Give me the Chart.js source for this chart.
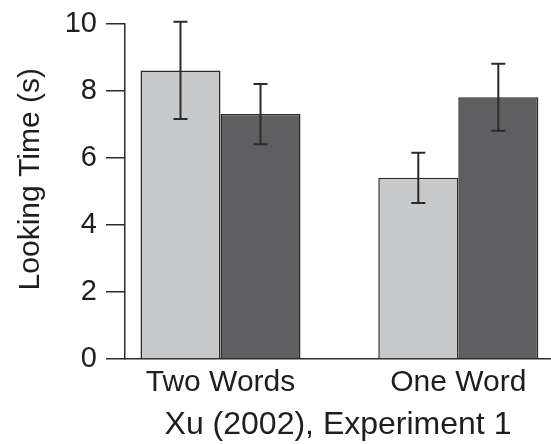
<!DOCTYPE html>
<html>
<head>
<meta charset="utf-8">
<script src="https://cdn.jsdelivr.net/npm/chart.js@4/dist/chart.umd.min.js"></script>
<style>
  html, body { margin: 0; padding: 0; background: #ffffff; }
  #wrap { width: 551px; height: 444px; position: relative; }
</style>
</head>
<body>
<div id="wrap"><canvas id="c" width="551" height="444"></canvas></div>
<script>
// Conditions on the x axis
const categories = ['Two Words', 'One Word'];
// Mean looking time (s) per condition, two trial types
const lightMeans = [8.6, 5.4];
const darkMeans = [7.3, 7.8];
// Error bar half-lengths (s)
const lightErrors = [1.45, 0.75];
const darkErrors = [0.9, 1.0];
// Y axis tick values
const yTicks = [0, 2, 4, 6, 8, 10];

const TEXT = '#1e1e1e';
const LINE = '#2b2b2b';
const FONT = "'Liberation Sans', Arial, sans-serif";
const Y_TITLE = 'Looking Time (s)';

// Draws mean ± error whiskers over each bar
const errorBars = {
  id: 'errorBars',
  afterDatasetsDraw(chart) {
    const ctx = chart.ctx;
    const yScale = chart.scales.y;
    chart.data.datasets.forEach((ds, di) => {
      const meta = chart.getDatasetMeta(di);
      meta.data.forEach((bar, i) => {
        const m = ds.data[i].y;
        const e = ds.errors[i];
        const top = yScale.getPixelForValue(m + e);
        const bot = yScale.getPixelForValue(m - e);
        const x = bar.x;
        const cap = 7;
        ctx.save();
        ctx.strokeStyle = LINE;
        ctx.lineWidth = 2;
        ctx.beginPath();
        ctx.moveTo(x, top); ctx.lineTo(x, bot);
        ctx.moveTo(x - cap, top); ctx.lineTo(x + cap, top);
        ctx.moveTo(x - cap, bot); ctx.lineTo(x + cap, bot);
        ctx.stroke();
        ctx.restore();
      });
    });
  }
};

// Rotated y-axis title, placed slightly above the plot's vertical middle
const yTitle = {
  id: 'yTitle',
  afterDraw(chart) {
    const ctx = chart.ctx;
    const area = chart.chartArea;
    const cy = (area.top + area.bottom) / 2 - 12;
    ctx.save();
    ctx.translate(39, cy);
    ctx.rotate(-Math.PI / 2);
    ctx.font = '30px ' + FONT;
    ctx.fillStyle = TEXT;
    ctx.textAlign = 'center';
    ctx.textBaseline = 'alphabetic';
    ctx.fillText(Y_TITLE, 0, 0);
    ctx.restore();
  }
};

const toPoints = arr => arr.map((v, i) => ({ x: i, y: v }));

new Chart(document.getElementById('c'), {
  type: 'bar',
  data: {
    datasets: [
      {
        data: toPoints(lightMeans),
        errors: lightErrors,
        backgroundColor: '#c8c9cb',
        borderColor: LINE,
        borderWidth: 1.5,
        categoryPercentage: 0.673,
        barPercentage: 1.0
      },
      {
        data: toPoints(darkMeans),
        errors: darkErrors,
        backgroundColor: '#5f5f62',
        borderColor: LINE,
        borderWidth: 1.5,
        categoryPercentage: 0.673,
        barPercentage: 1.0
      }
    ]
  },
  options: {
    responsive: false,
    animation: false,
    events: [],
    layout: { padding: { top: 21, right: 0, left: 0, bottom: 0 } },
    plugins: {
      legend: { display: false },
      tooltip: { enabled: false }
    },
    scales: {
      x: {
        type: 'linear',
        offset: false,
        bounds: 'data',
        min: -0.4016,
        max: 1.3898,
        afterBuildTicks: axis => { axis.ticks = categories.map((c, i) => ({ value: i })); },
        afterFit: axis => { axis.height = 85; },
        grid: { display: false, drawTicks: false, offset: false },
        border: { display: true, color: LINE, width: 1.5 },
        ticks: {
          color: TEXT,
          padding: 7,
          maxRotation: 0,
          autoSkip: false,
          font: { family: FONT, size: 30, lineHeight: 1.1 },
          callback: v => categories[v] !== undefined ? categories[v] : ''
        },
        title: {
          display: true,
          text: 'Xu (2002), Experiment 1',
          color: TEXT,
          font: { family: FONT, size: 32 },
          padding: { top: 0, bottom: 0 }
        }
      },
      y: {
        min: 0,
        max: 10,
        afterBuildTicks: axis => { axis.ticks = yTicks.map(v => ({ value: v })); },
        afterFit: axis => { axis.width = 125; },
        grid: {
          drawOnChartArea: false,
          drawTicks: true,
          tickLength: 19,
          color: LINE,
          lineWidth: 1.5
        },
        border: { display: true, color: LINE, width: 1.5 },
        ticks: {
          color: TEXT,
          padding: 9,
          font: { family: FONT, size: 29, lineHeight: 1.0 }
        },
        title: { display: false }
      }
    }
  },
  plugins: [errorBars, yTitle]
});
</script>
</body>
</html>
